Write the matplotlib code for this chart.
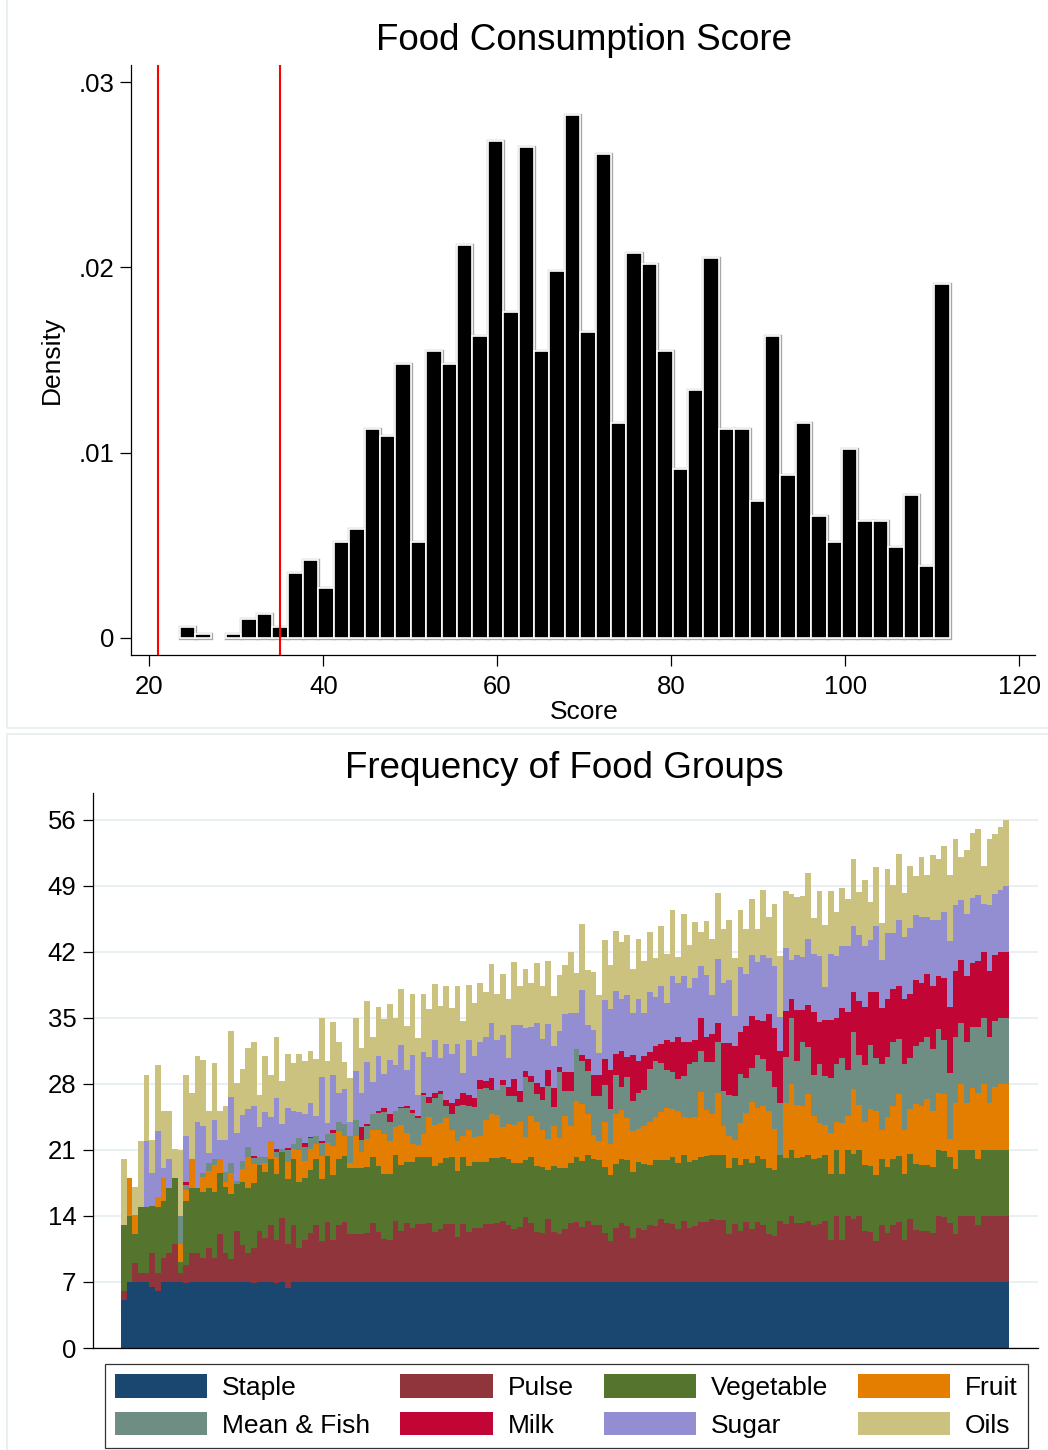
import numpy as np
import matplotlib.pyplot as plt
from matplotlib.patches import Patch, Rectangle

plt.rcParams['font.family'] = ['Liberation Sans', 'DejaVu Sans']

# ---- top panel: histogram of the food consumption score ----
bin_start = 23.5
bin_width = 1.77
density = [.0006, .0002, 0, .0002, .0010, .0013, .0006, .0035, .0042, .0027,
           .0052, .0059, .0113, .0109, .0148, .0052, .0155, .0148, .0212, .0163,
           .0268, .0176, .0265, .0155, .0198, .0282, .0165, .0261, .0116, .0208,
           .0202, .0155, .0091, .0134, .0205, .0113, .0113, .0074, .0163, .0088,
           .0116, .0066, .0052, .0102, .0063, .0063, .0049, .0077, .0039, .0191]
cutoffs = [21, 35]

# ---- bottom panel: cumulative top of each food group layer (days/week) ----
top_staple = [
    5.1, 7.0, 7.0, 7.0, 7.0, 6.5, 6.0, 7.0, 7.0, 7.0,
    7.0, 6.9, 7.0, 7.0, 7.0, 7.0, 7.0, 7.0, 7.0, 7.0,
    7.0, 7.0, 7.0, 6.9, 7.0, 7.0, 7.0, 6.9, 7.0, 6.4,
    7.0, 7.0, 7.0, 7.0, 7.0, 7.0, 7.0, 7.0, 7.0, 7.0,
    7.0, 7.0, 7.0, 7.0, 7.0, 7.0, 7.0, 7.0, 7.0, 7.0,
    7.0, 7.0, 7.0, 7.0, 7.0, 7.0, 7.0, 7.0, 7.0, 7.0,
    7.0, 7.0, 7.0, 7.0, 7.0, 7.0, 7.0, 7.0, 7.0, 7.0,
    7.0, 7.0, 7.0, 7.0, 7.0, 7.0, 7.0, 7.0, 7.0, 7.0,
    7.0, 7.0, 7.0, 7.0, 7.0, 7.0, 7.0, 7.0, 7.0, 7.0,
    7.0, 7.0, 7.0, 7.0, 7.0, 7.0, 7.0, 7.0, 7.0, 7.0,
    7.0, 7.0, 7.0, 7.0, 7.0, 7.0, 7.0, 7.0, 7.0, 7.0,
    7.0, 7.0, 7.0, 7.0, 7.0, 7.0, 7.0, 7.0, 7.0, 7.0,
    7.0, 7.0, 7.0, 7.0, 7.0, 7.0, 7.0, 7.0, 7.0, 7.0,
    7.0, 7.0, 7.0, 7.0, 7.0, 7.0, 7.0, 7.0, 7.0, 7.0,
    7.0, 7.0, 7.0, 7.0, 7.0, 7.0, 7.0, 7.0, 7.0, 7.0,
    7.0, 7.0, 7.0, 7.0, 7.0, 7.0, 7.0]
top_pulse = [
    6.0, 7.0, 9.0, 8.0, 8.0, 10.1, 8.0, 9.5, 10.1, 11.0,
    8.0, 8.8, 10.1, 10.1, 9.5, 10.6, 9.5, 12.1, 10.1, 9.4,
    12.4, 10.9, 10.1, 10.6, 12.4, 11.7, 13.0, 11.4, 13.8, 11.0,
    13.0, 10.6, 11.5, 12.2, 13.0, 11.3, 13.4, 11.4, 13.0, 13.4,
    12.1, 12.1, 12.1, 12.2, 13.3, 12.3, 11.6, 11.5, 13.5, 12.4,
    13.3, 12.7, 13.2, 13.2, 13.3, 12.3, 12.6, 13.1, 13.2, 11.8,
    13.2, 12.3, 12.7, 12.7, 13.2, 13.1, 13.3, 13.5, 13.0, 12.6,
    12.8, 13.9, 13.3, 12.3, 12.2, 13.7, 12.3, 12.1, 12.6, 13.3,
    13.4, 12.8, 13.5, 13.0, 13.0, 12.2, 11.3, 12.7, 13.3, 12.9,
    11.7, 12.7, 12.5, 13.0, 12.9, 13.7, 13.3, 13.2, 12.6, 13.5,
    12.7, 12.9, 13.4, 13.4, 13.7, 13.6, 13.6, 12.1, 13.1, 12.4,
    13.4, 12.6, 13.4, 13.0, 12.1, 11.9, 13.5, 13.1, 14.0, 13.3,
    13.3, 13.5, 13.0, 13.1, 13.5, 11.4, 14.0, 11.5, 14.0, 13.7,
    14.0, 12.4, 12.3, 11.3, 13.0, 12.2, 13.0, 13.4, 11.5, 13.7,
    12.5, 12.4, 12.4, 12.2, 14.0, 13.9, 13.3, 12.1, 14.0, 14.0,
    14.0, 13.0, 14.0, 14.0, 14.0, 14.0, 14.0]
top_veg = [
    13.0, 14.1, 12.1, 16.0, 15.1, 15.1, 15.1, 15.6, 17.0, 18.0,
    9.1, 15.6, 17.0, 17.0, 16.5, 17.0, 16.5, 18.6, 17.5, 16.3,
    17.4, 17.6, 17.0, 17.5, 19.4, 18.8, 20.1, 18.4, 20.8, 17.9,
    20.0, 17.7, 18.0, 18.9, 20.0, 17.9, 20.5, 18.3, 20.0, 20.4,
    19.1, 19.1, 19.1, 19.4, 20.3, 19.3, 18.5, 18.5, 20.6, 19.5,
    19.7, 19.7, 20.3, 20.3, 20.3, 19.4, 19.6, 20.2, 20.2, 18.8,
    20.2, 19.3, 19.8, 19.7, 19.7, 20.2, 20.1, 20.3, 20.5, 20.0,
    19.6, 19.9, 20.9, 20.2, 19.4, 18.9, 20.3, 19.3, 19.1, 19.6,
    20.3, 19.8, 20.5, 20.1, 19.9, 19.2, 18.3, 19.5, 20.0, 20.0,
    18.8, 19.7, 19.9, 19.4, 20.0, 19.9, 19.9, 20.3, 19.6, 20.5,
    19.8, 20.0, 20.3, 20.6, 20.5, 20.5, 20.5, 19.1, 20.2, 19.4,
    20.0, 19.8, 20.4, 20.1, 19.1, 18.9, 20.5, 20.1, 21.0, 20.1,
    20.4, 20.5, 20.0, 20.1, 20.5, 18.5, 21.0, 18.6, 21.0, 20.6,
    21.0, 19.5, 19.3, 18.3, 20.0, 19.2, 20.0, 20.5, 18.5, 20.6,
    19.6, 19.4, 19.4, 19.3, 21.0, 21.0, 20.4, 19.0, 21.0, 21.0,
    21.0, 20.0, 21.0, 21.0, 21.0, 21.0, 21.0]
top_fruit = [
    13.0, 18.1, 14.1, 16.0, 15.1, 15.1, 16.1, 18.0, 17.0, 18.0,
    11.0, 16.8, 20.0, 17.0, 18.1, 18.8, 19.4, 20.0, 18.0, 18.6,
    17.4, 19.0, 20.3, 19.5, 19.4, 19.7, 22.0, 20.3, 20.8, 19.7,
    21.1, 21.1, 19.8, 21.1, 21.6, 20.4, 21.8, 21.4, 23.0, 22.5,
    19.6, 22.5, 20.8, 22.4, 23.1, 23.1, 22.7, 21.9, 23.5, 23.7,
    22.8, 21.6, 21.6, 22.8, 24.5, 23.7, 23.9, 24.5, 23.1, 21.9,
    22.5, 23.1, 22.5, 22.5, 24.2, 24.9, 24.7, 23.4, 24.2, 24.0,
    24.0, 22.4, 25.2, 24.9, 23.3, 22.2, 24.5, 22.5, 24.6, 23.5,
    26.2, 25.9, 24.8, 22.7, 21.9, 24.0, 21.6, 24.8, 25.2, 24.5,
    23.1, 23.2, 23.9, 24.0, 24.6, 25.0, 25.4, 25.4, 25.1, 24.5,
    24.5, 24.6, 27.1, 25.4, 24.8, 27.0, 23.5, 22.5, 22.2, 23.9,
    24.9, 26.3, 25.4, 25.8, 25.1, 23.2, 20.5, 26.0, 28.0, 25.8,
    25.8, 26.9, 24.6, 23.9, 23.6, 22.9, 24.0, 24.0, 24.6, 27.5,
    25.8, 24.1, 25.3, 25.1, 23.1, 24.5, 25.7, 27.0, 23.1, 25.3,
    26.0, 25.7, 26.4, 25.2, 27.0, 27.0, 22.3, 26.0, 28.0, 26.0,
    27.6, 27.0, 28.0, 26.0, 27.7, 28.0, 28.0]
top_meat = [
    13.0, 18.1, 14.1, 16.0, 15.1, 15.1, 16.1, 18.0, 17.0, 18.0,
    14.0, 17.3, 20.0, 17.0, 18.6, 19.6, 20.0, 20.0, 19.1, 19.6,
    17.7, 19.8, 21.3, 20.1, 20.3, 20.4, 22.0, 20.8, 21.1, 21.0,
    21.6, 22.4, 21.3, 22.3, 22.5, 21.7, 22.8, 22.8, 24.0, 23.8,
    22.5, 24.2, 22.1, 23.7, 24.8, 24.9, 25.0, 24.0, 25.2, 25.5,
    25.5, 24.9, 24.5, 26.9, 26.0, 26.6, 26.9, 25.8, 24.8, 25.7,
    25.8, 25.7, 25.7, 27.5, 27.6, 27.5, 27.4, 27.9, 27.2, 27.1,
    26.1, 28.7, 28.8, 27.8, 26.5, 27.8, 26.6, 30.1, 27.3, 27.3,
    31.7, 30.4, 29.4, 26.8, 26.7, 27.9, 25.3, 29.0, 27.7, 28.8,
    26.3, 27.0, 27.8, 29.6, 30.5, 30.2, 29.5, 29.4, 28.5, 28.8,
    30.2, 30.4, 31.5, 30.5, 30.3, 32.4, 27.3, 26.8, 26.8, 29.1,
    28.6, 29.9, 31.1, 30.7, 29.4, 27.7, 26.0, 30.9, 35.0, 30.4,
    32.6, 31.9, 29.0, 30.1, 28.8, 28.7, 30.1, 30.8, 29.5, 33.5,
    31.1, 30.1, 32.1, 30.7, 30.1, 30.9, 32.4, 32.9, 30.1, 30.8,
    32.1, 32.4, 33.0, 31.8, 33.8, 32.8, 29.3, 33.0, 34.5, 32.4,
    34.0, 34.1, 35.0, 33.0, 34.7, 35.0, 35.0]
top_milk = [
    13.0, 18.1, 14.1, 16.0, 15.1, 15.1, 16.1, 18.0, 17.0, 18.0,
    14.0, 17.6, 20.0, 17.0, 18.6, 19.6, 20.0, 20.0, 19.1, 19.6,
    17.7, 19.8, 21.3, 20.4, 20.3, 20.4, 22.0, 21.1, 21.1, 21.2,
    21.6, 22.4, 21.7, 22.4, 22.5, 22.0, 22.8, 23.1, 24.0, 23.8,
    22.5, 24.2, 23.4, 23.9, 24.8, 25.1, 25.4, 24.8, 25.2, 25.7,
    25.7, 25.2, 24.7, 27.1, 26.6, 27.1, 27.2, 26.4, 26.0, 26.4,
    27.0, 26.8, 26.6, 28.4, 28.3, 28.7, 27.4, 28.4, 28.2, 28.9,
    27.3, 29.4, 29.4, 29.0, 27.9, 29.5, 28.6, 30.6, 29.3, 29.3,
    31.7, 31.1, 30.6, 29.1, 29.0, 30.6, 29.5, 31.2, 31.5, 31.0,
    31.2, 30.4, 31.4, 31.4, 32.1, 32.2, 32.7, 32.5, 33.0, 32.5,
    32.5, 32.8, 35.0, 33.2, 33.3, 34.5, 32.3, 32.3, 32.1, 33.5,
    34.1, 35.4, 34.8, 34.8, 35.4, 33.9, 31.5, 35.7, 37.0, 35.8,
    35.9, 36.4, 35.6, 34.6, 34.8, 34.9, 35.0, 36.2, 35.6, 37.8,
    36.8, 36.3, 37.8, 37.7, 36.1, 37.0, 38.1, 38.5, 37.0, 37.5,
    39.1, 38.7, 39.7, 38.5, 39.4, 39.3, 36.4, 40.0, 41.1, 39.4,
    40.8, 41.1, 42.0, 40.0, 41.7, 42.0, 42.0]
top_sugar = [
    13.0, 18.1, 14.1, 16.0, 22.0, 18.6, 23.1, 19.1, 20.0, 18.0,
    14.0, 22.5, 20.0, 24.0, 23.5, 20.7, 24.2, 22.1, 22.5, 26.6,
    22.8, 24.7, 25.3, 25.7, 23.4, 25.1, 24.6, 26.5, 23.8, 25.4,
    25.1, 25.1, 24.8, 26.0, 24.6, 28.7, 24.0, 29.0, 27.0, 27.5,
    24.0, 29.4, 27.0, 30.5, 28.2, 31.0, 29.1, 30.5, 30.1, 32.2,
    29.5, 31.1, 26.9, 31.5, 30.9, 32.8, 30.7, 32.3, 31.2, 32.2,
    29.2, 32.7, 31.1, 32.4, 33.0, 34.6, 32.7, 33.2, 31.3, 34.7,
    34.5, 33.9, 34.6, 35.4, 33.0, 34.4, 33.0, 34.4, 35.4, 35.5,
    35.5, 38.0, 34.2, 33.8, 31.3, 36.9, 35.9, 37.9, 37.0, 37.5,
    35.6, 37.0, 35.9, 37.8, 37.3, 38.4, 36.6, 39.5, 38.7, 39.4,
    38.3, 39.3, 40.5, 39.7, 37.4, 41.3, 38.7, 39.0, 35.3, 40.4,
    39.7, 41.9, 40.9, 41.8, 41.4, 40.5, 35.1, 42.4, 41.1, 41.7,
    41.6, 43.5, 41.8, 41.6, 38.3, 41.9, 41.6, 42.7, 42.6, 44.8,
    43.9, 42.7, 43.3, 44.8, 41.1, 44.1, 44.0, 45.5, 43.6, 44.5,
    46.0, 45.7, 45.7, 45.5, 45.4, 46.4, 43.4, 47.1, 47.5, 46.0,
    47.7, 48.1, 47.1, 47.1, 48.1, 48.6, 49.0]
top_oils = [
    20.1, 18.1, 17.1, 23.1, 29.1, 22.1, 30.2, 25.1, 25.1, 21.1,
    21.1, 28.9, 27.1, 31.1, 30.6, 25.1, 30.2, 25.1, 26.1, 33.7,
    28.1, 29.6, 31.8, 32.5, 26.8, 31.1, 29.1, 33.0, 28.3, 31.2,
    30.2, 31.3, 30.4, 31.5, 30.6, 35.0, 30.5, 34.6, 32.4, 30.3,
    28.6, 35.0, 31.8, 37.0, 33.0, 36.2, 34.9, 36.5, 35.1, 38.2,
    34.1, 37.5, 33.0, 37.6, 35.9, 38.7, 36.3, 38.5, 36.1, 38.4,
    34.7, 38.5, 36.7, 38.7, 37.8, 40.8, 37.5, 39.7, 37.5, 41.3,
    38.6, 40.2, 39.3, 41.7, 38.6, 41.0, 38.3, 40.3, 40.6, 42.0,
    39.8, 45.1, 40.1, 40.0, 37.4, 43.3, 40.6, 44.2, 43.0, 43.9,
    40.3, 43.4, 41.4, 44.1, 41.5, 44.8, 41.8, 46.5, 41.5, 46.0,
    42.8, 45.3, 44.1, 45.5, 43.4, 48.2, 44.4, 45.4, 41.5, 46.4,
    44.4, 47.8, 44.4, 48.7, 45.7, 47.1, 41.6, 48.5, 48.2, 47.8,
    48.0, 50.6, 45.6, 48.5, 44.9, 48.6, 46.2, 48.9, 47.6, 51.9,
    48.4, 49.8, 47.3, 51.1, 45.1, 50.9, 49.1, 52.5, 48.2, 51.1,
    50.2, 52.1, 50.2, 52.4, 51.8, 53.5, 50.5, 54.2, 52.1, 52.8,
    54.6, 55.2, 51.1, 54.2, 54.5, 55.2, 56.0]

group_labels = ['Staple', 'Pulse', 'Vegetable', 'Fruit',
                'Mean & Fish', 'Milk', 'Sugar', 'Oils']
group_colors = ['#1a476f', '#90353b', '#55752f', '#e37e00',
                '#6e8e84', '#c10534', '#938dd2', '#cac27e']

W, H = 1048, 1450
fig = plt.figure(figsize=(W / 100, H / 100), dpi=100)
fig.patch.set_facecolor('white')

# faint panel frames (graph combine look)
fig.add_artist(Rectangle((7 / W, 1 - 728 / H), 1.0, 728 / H + 0.01, transform=fig.transFigure,
                         fill=False, edgecolor='#e4eded', lw=1.2))
fig.add_artist(Rectangle((7 / W, -0.01), 1.0, (H - 734) / H + 0.01, transform=fig.transFigure,
                         fill=False, edgecolor='#e4eded', lw=1.2))

# ---------------- histogram ----------------
ax1 = fig.add_axes([131 / W, 1 - 655 / H, (1035 - 131) / W, (655 - 65) / H])
lefts = bin_start + bin_width * np.arange(len(density))
dens = np.array(density)
nz = dens > 0
ax1.bar(lefts[nz], dens[nz], width=bin_width, align='edge', fill=False,
        edgecolor='#a8a8a8', linewidth=2.4, zorder=1.5)
ax1.bar(lefts[nz], dens[nz], width=bin_width, align='edge', color='black',
        edgecolor='white', linewidth=1.2, zorder=2)
for c in cutoffs:
    ax1.axvline(c, color='red', lw=1.5, zorder=3)

ax1.set_xlim(17.9, 121.8)
ax1.set_ylim(-0.00092, 0.03092)
ax1.set_xticks([20, 40, 60, 80, 100, 120])
ax1.set_yticks([0, .01, .02, .03])
ax1.set_yticklabels(['0', '.01', '.02', '.03'])
for s in ['top', 'right']:
    ax1.spines[s].set_visible(False)
for s in ['left', 'bottom']:
    ax1.spines[s].set_linewidth(0.9)
ax1.tick_params(direction='out', length=8, width=0.9, labelsize=18.5, pad=4)
ax1.tick_params(axis='x', pad=6.5)

fig.text(584 / W, 1 - 40 / H, 'Food Consumption Score', ha='center', va='center', fontsize=26.5)
fig.text(52 / W, 1 - 360 / H, 'Density', ha='center', va='center', rotation=90, fontsize=19)
fig.text(584 / W, 1 - 712 / H, 'Score', ha='center', va='center', fontsize=19)

# ---------------- stacked food groups ----------------
ax2 = fig.add_axes([93 / W, 1 - 1348 / H, 945 / W, 555 / H])
tops = np.array([top_staple, top_pulse, top_veg, top_fruit,
                 top_meat, top_milk, top_sugar, top_oils])
n = tops.shape[1]
days = np.clip(np.diff(np.vstack([np.zeros(n), tops]), axis=0), 0, 7)
stack = np.cumsum(days, axis=0)
edges = np.arange(n + 1)
for k in range(len(group_labels)):
    ax2.stairs(stack[k], edges, baseline=stack[k] - days[k], fill=True,
               color=group_colors[k], lw=0, zorder=2)

ax2.set_xlim(-4.95, n + 5.1)
ax2.set_ylim(0, 58.85)
ax2.set_yticks(np.arange(0, 57, 7))
ax2.set_xticks([])
ax2.yaxis.grid(True, color='#e8f0f1', lw=1.5, zorder=0)
ax2.set_axisbelow(True)
for s in ['top', 'right']:
    ax2.spines[s].set_visible(False)
for s in ['left', 'bottom']:
    ax2.spines[s].set_linewidth(0.9)
ax2.tick_params(axis='y', direction='out', length=7, width=0.9, labelsize=18.5, pad=5)

fig.text(564.5 / W, 1 - 768 / H, 'Frequency of Food Groups', ha='center', va='center', fontsize=26.5)

order = [0, 4, 1, 5, 2, 6, 3, 7]
handles = [Patch(facecolor=group_colors[k], edgecolor='none') for k in order]
labels = [group_labels[k] for k in order]
leg = fig.legend(handles, labels, ncol=4, loc='center',
                 bbox_to_anchor=(566.5 / W, 1 - 1406 / H), fontsize=19,
                 handlelength=3.5, handleheight=1.0, handletextpad=0.56,
                 columnspacing=1.14, labelspacing=0.44, borderpad=0.38,
                 frameon=True, fancybox=False)
leg.get_frame().set_edgecolor('black')
leg.get_frame().set_linewidth(0.9)

fig.savefig('out.png', dpi=100, facecolor='white')
